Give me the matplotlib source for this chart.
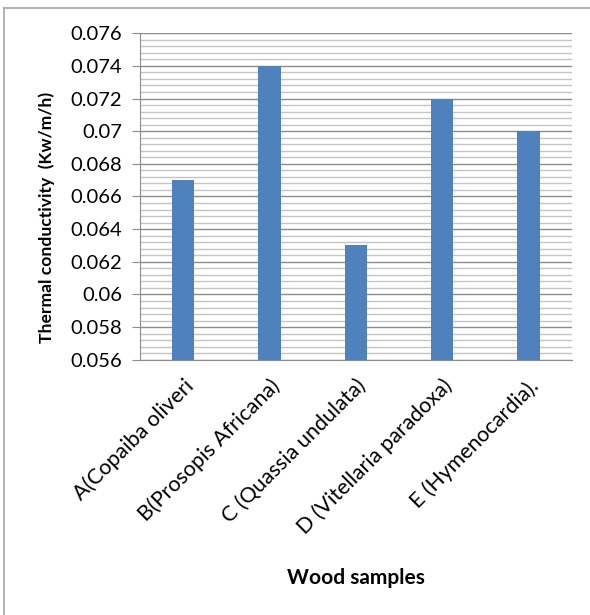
import matplotlib.pyplot as plt
from matplotlib.lines import Line2D
from matplotlib.ticker import MultipleLocator, FormatStrFormatter
import numpy as np

# Thermal conductivity of the wood samples
samples = ["A(Copaiba oliveri", "B(Prosopis Africana)", "C (Quassia undulata)",
           "D (Vitellaria paradoxa)", "E (Hymenocardia)."]
conductivity = [0.067, 0.074, 0.063, 0.072, 0.070]

plt.rcParams['font.family'] = ['Lato', 'DejaVu Sans']

fig = plt.figure(figsize=(5.9, 6.15), dpi=100)
ax = fig.add_axes([0.237, 0.415, 0.732, 0.531])

x = np.arange(len(samples))
ax.bar(x, conductivity, width=0.26, color="#4F81BD", zorder=3)

ax.set_ylim(0.056, 0.076)
ax.set_xlim(-0.5, len(samples) - 0.5)
ax.yaxis.set_major_locator(MultipleLocator(0.002))
ax.yaxis.set_minor_locator(MultipleLocator(0.0004))
ax.yaxis.set_major_formatter(FormatStrFormatter('%g'))
ax.grid(which='major', axis='y', color='#8c8c8c', linewidth=1.0, zorder=1)
ax.grid(which='minor', axis='y', color='#c4c4c4', linewidth=1.0, zorder=1)

ax.set_xticks(x)
ax.set_xticklabels(samples, rotation=45, ha='right', rotation_mode='anchor', fontsize=15.5)
ax.tick_params(axis='x', length=0, pad=11)
ax.tick_params(axis='y', which='major', length=5.5, color='#8c8c8c', labelsize=14.5, pad=7)
ax.tick_params(axis='y', which='minor', length=0)

for side in ['top', 'right']:
    ax.spines[side].set_visible(False)
ax.spines['left'].set_color('#8c8c8c')
ax.spines['bottom'].set_color('#8c8c8c')

ax.set_ylabel("Thermal conductivity  (Kw/m/h)", fontsize=12.6, fontweight='bold')
ax.yaxis.set_label_coords(-0.197, 0.437)
fig.text(0.604, 0.06, "Wood samples", fontsize=15, fontweight='bold', ha='center', va='center')

# frame around the chart (left and top edges)
fig.add_artist(Line2D([4 / 590, 4 / 590], [0, 1 - 8 / 615], color='#a6a6a6', linewidth=1.2))
fig.add_artist(Line2D([4 / 590, 1], [1 - 8 / 615, 1 - 8 / 615], color='#a6a6a6', linewidth=1.2))

fig.savefig("out.png", dpi=100)
